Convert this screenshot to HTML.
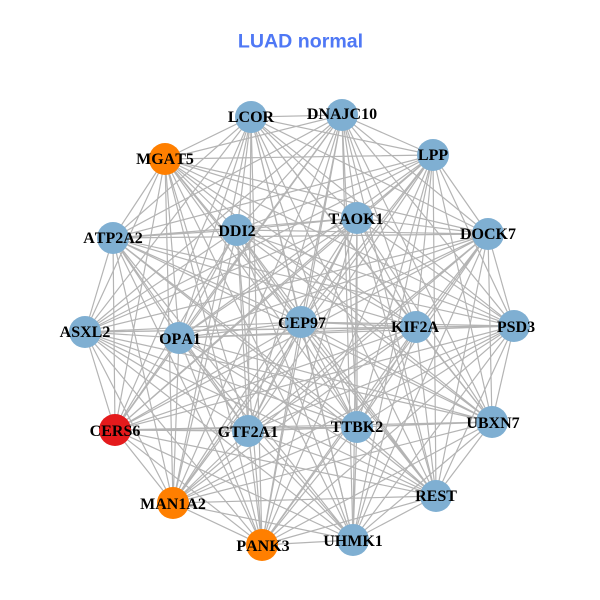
<!DOCTYPE html>
<html><head><meta charset="utf-8"><style>
html,body{margin:0;padding:0;background:#fff}
svg{display:block}
.l{font-family:"Liberation Serif",serif;font-weight:bold;font-size:16px;fill:#000;text-anchor:middle;font-kerning:none}
.t{font-family:"Liberation Sans",sans-serif;font-weight:bold;font-size:19.6px;fill:#4f78f5;text-anchor:middle}
</style></head><body>
<svg width="600" height="600" viewBox="0 0 600 600" xmlns="http://www.w3.org/2000/svg">
<rect width="600" height="600" fill="#fff"/>
<text class="t" x="300.5" y="47.5">LUAD normal</text>
<g fill="none" stroke="#b4b4b4" stroke-width="1.2">
<path d="M251 117L342 115M251 117L433 155M251 117L488 234M251 117L514 326M251 117L492 422M251 117L436 496M251 117L353 540M251 117L262 545M251 117L173 503M251 117L115 430M251 117L85 332M251 117L113 238M251 117L165 159M251 117L237 230M251 117L357 218M251 117L416 327M251 117L357 427M251 117L248 431M251 117L179 338M251 117L301 322"/>
<path d="M342 115L433 155M342 115L488 234M342 115L514 326M342 115L492 422M342 115L436 496M342 115L353 540M342 115L262 545M342 115L173 503M342 115L115 430M342 115L85 332M342 115L113 238M342 115L165 159M342 115L237 230M342 115L357 218M342 115L416 327M342 115L357 427M342 115L248 431M342 115L179 338M342 115L301 322"/>
<path d="M433 155L488 234M433 155L514 326M433 155L492 422M433 155L436 496M433 155L353 540M433 155L262 545M433 155L173 503M433 155L115 430M433 155L85 332M433 155L113 238M433 155L165 159M433 155L237 230M433 155L357 218M433 155L416 327M433 155L357 427M433 155L248 431M433 155L179 338M433 155L301 322"/>
<path d="M488 234L514 326M488 234L492 422M488 234L436 496M488 234L353 540M488 234L262 545M488 234L173 503M488 234L115 430M488 234L85 332M488 234L113 238M488 234L165 159M488 234L237 230M488 234L357 218M488 234L416 327M488 234L357 427M488 234L248 431M488 234L179 338M488 234L301 322"/>
<path d="M514 326L492 422M514 326L436 496M514 326L353 540M514 326L262 545M514 326L173 503M514 326L115 430M514 326L85 332M514 326L113 238M514 326L165 159M514 326L237 230M514 326L357 218M514 326L416 327M514 326L357 427M514 326L248 431M514 326L179 338M514 326L301 322"/>
<path d="M492 422L436 496M492 422L353 540M492 422L262 545M492 422L173 503M492 422L115 430M492 422L85 332M492 422L113 238M492 422L165 159M492 422L237 230M492 422L357 218M492 422L416 327M492 422L357 427M492 422L248 431M492 422L179 338M492 422L301 322"/>
<path d="M436 496L353 540M436 496L262 545M436 496L173 503M436 496L115 430M436 496L85 332M436 496L113 238M436 496L165 159M436 496L237 230M436 496L357 218M436 496L416 327M436 496L357 427M436 496L248 431M436 496L179 338M436 496L301 322"/>
<path d="M353 540L262 545M353 540L173 503M353 540L115 430M353 540L85 332M353 540L113 238M353 540L165 159M353 540L237 230M353 540L357 218M353 540L416 327M353 540L357 427M353 540L248 431M353 540L179 338M353 540L301 322"/>
<path d="M262 545L173 503M262 545L115 430M262 545L85 332M262 545L113 238M262 545L165 159M262 545L237 230M262 545L357 218M262 545L416 327M262 545L357 427M262 545L248 431M262 545L179 338M262 545L301 322"/>
<path d="M173 503L115 430M173 503L85 332M173 503L113 238M173 503L165 159M173 503L237 230M173 503L357 218M173 503L416 327M173 503L357 427M173 503L248 431M173 503L179 338M173 503L301 322"/>
<path d="M115 430L85 332M115 430L113 238M115 430L165 159M115 430L237 230M115 430L357 218M115 430L416 327M115 430L357 427M115 430L248 431M115 430L179 338M115 430L301 322"/>
<path d="M85 332L113 238M85 332L165 159M85 332L237 230M85 332L357 218M85 332L416 327M85 332L357 427M85 332L248 431M85 332L179 338M85 332L301 322"/>
<path d="M113 238L165 159M113 238L237 230M113 238L357 218M113 238L416 327M113 238L357 427M113 238L248 431M113 238L179 338M113 238L301 322"/>
<path d="M165 159L237 230M165 159L357 218M165 159L416 327M165 159L357 427M165 159L248 431M165 159L179 338M165 159L301 322"/>
<path d="M237 230L357 218M237 230L416 327M237 230L357 427M237 230L248 431M237 230L179 338M237 230L301 322"/>
<path d="M357 218L416 327M357 218L357 427M357 218L248 431M357 218L179 338M357 218L301 322"/>
<path d="M416 327L357 427M416 327L248 431M416 327L179 338M416 327L301 322"/>
<path d="M357 427L248 431M357 427L179 338M357 427L301 322"/>
<path d="M248 431L179 338M248 431L301 322"/>
<path d="M179 338L301 322"/>
</g>
<g fill="#7fafd2">
<circle cx="251" cy="117" r="16"/><circle cx="342" cy="115" r="16"/><circle cx="433" cy="155" r="16"/><circle cx="488" cy="234" r="16"/><circle cx="514" cy="326" r="16"/><circle cx="492" cy="422" r="16"/><circle cx="436" cy="496" r="16"/><circle cx="353" cy="540" r="16"/><circle cx="85" cy="332" r="16"/><circle cx="113" cy="238" r="16"/><circle cx="237" cy="230" r="16"/><circle cx="357" cy="218" r="16"/><circle cx="416" cy="327" r="16"/><circle cx="357" cy="427" r="16"/><circle cx="248" cy="431" r="16"/><circle cx="179" cy="338" r="16"/><circle cx="301" cy="322" r="16"/>
</g>
<g fill="#ff7f00"><circle cx="165" cy="159" r="16"/><circle cx="173" cy="503" r="16"/><circle cx="262" cy="545" r="16"/></g>
<circle cx="115" cy="430" r="16" fill="#e41a1c"/>
<g class="lbls">
<text class="l" x="251" y="122">LCOR</text>
<text class="l" x="342" y="119">DNAJC10</text>
<text class="l" x="433" y="160">LPP</text>
<text class="l" x="488" y="239">DOCK7</text>
<text class="l" x="516" y="332">PSD3</text>
<text class="l" x="493" y="428">UBXN7</text>
<text class="l" x="436" y="501">REST</text>
<text class="l" x="353" y="546">UHMK1</text>
<text class="l" x="263" y="551">PANK3</text>
<text class="l" x="173" y="509">MAN1A2</text>
<text class="l" x="115" y="436">CERS6</text>
<text class="l" x="85" y="337">ASXL2</text>
<text class="l" x="113" y="243">ATP2A2</text>
<text class="l" x="165" y="164">MGAT5</text>
<text class="l" x="237" y="236">DDI2</text>
<text class="l" x="356" y="224">TAOK1</text>
<text class="l" x="415" y="332">KIF2A</text>
<text class="l" x="357" y="432">TTBK2</text>
<text class="l" x="248" y="437">GTF2A1</text>
<text class="l" x="180" y="344">OPA1</text>
<text class="l" x="302" y="328">CEP97</text>
</g>
</svg>
</body></html>
